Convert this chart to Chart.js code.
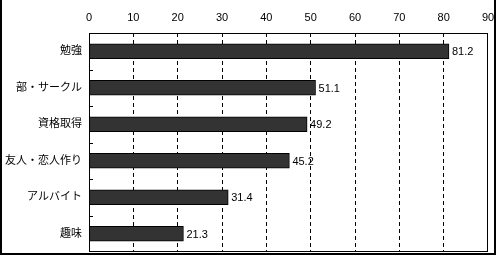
<!DOCTYPE html>
<html>
<head>
<meta charset="utf-8">
<script src="https://cdn.jsdelivr.net/npm/chart.js@4/dist/chart.umd.min.js"></script>
<style>
html,body{margin:0;padding:0;background:#fff;}
#wrap{width:500px;height:257px;position:relative;}
</style>
</head>
<body>
<div id="wrap"><canvas id="c" width="500" height="257"></canvas></div>
<script>
const categories = ["勉強", "部・サークル", "資格取得", "友人・恋人作り", "アルバイト", "趣味"];
const values = [81.2, 51.1, 49.2, 45.2, 31.4, 21.3];
const valueLabels = ["81.2", "51.1", "49.2", "45.2", "31.4", "21.3"];
const xTicks = [0, 10, 20, 30, 40, 50, 60, 70, 80, 90];

const FONT = '"Liberation Sans", "Noto Sans CJK JP", sans-serif';

const framePlugin = {
  id: 'frame',
  afterDatasetsDraw(chart) {
    const ctx = chart.ctx;
    const a = chart.chartArea;
    const y = chart.scales.y;
    ctx.save();
    ctx.strokeStyle = '#000';
    ctx.lineWidth = 1;
    ctx.setLineDash([]);
    ctx.strokeRect(Math.round(a.left) + 0.5, Math.round(a.top) + 0.5,
                   Math.round(a.right - a.left) - 1, Math.round(a.bottom - a.top) - 1);
    for (let i = 1; i < categories.length; i++) {
      const py = Math.round((y.getPixelForValue(i - 1) + y.getPixelForValue(i)) / 2) + 0.5;
      ctx.beginPath();
      ctx.moveTo(a.left, py);
      ctx.lineTo(a.left + 4, py);
      ctx.stroke();
    }
    const meta = chart.getDatasetMeta(0);
    ctx.fillStyle = '#000';
    ctx.font = '11px ' + FONT;
    ctx.textAlign = 'left';
    ctx.textBaseline = 'middle';
    meta.data.forEach((bar, i) => {
      ctx.fillText(valueLabels[i], bar.x + 3, bar.y + 1);
    });
    ctx.lineWidth = 2;
    ctx.beginPath();
    ctx.moveTo(1, 0);
    ctx.lineTo(1, 254);
    ctx.lineTo(495, 254);
    ctx.lineTo(495, 0);
    ctx.stroke();
    ctx.restore();
  }
};

new Chart(document.getElementById('c'), {
  type: 'bar',
  data: {
    labels: categories,
    datasets: [{
      data: values,
      backgroundColor: '#333333',
      borderColor: '#000000',
      borderWidth: 1,
      borderSkipped: false,
      barThickness: 15
    }]
  },
  options: {
    indexAxis: 'y',
    responsive: false,
    animation: false,
    layout: { padding: { left: 0, top: 0, right: 12, bottom: 5 } },
    plugins: { legend: { display: false }, tooltip: { enabled: false } },
    scales: {
      x: {
        position: 'top',
        min: 0,
        max: 90,
        afterFit(s) { s.height = 33; s.paddingLeft = 0; s.paddingRight = 0; },
        afterBuildTicks(s) { s.ticks = xTicks.map(v => ({ value: v })); },
        ticks: { color: '#000', font: { size: 11, family: FONT }, padding: 8 },
        grid: {
          drawTicks: false,
          color: (c) => (c.tick && (c.tick.value === 0 || c.tick.value === 90)) ? 'rgba(0,0,0,0)' : '#000',
          lineWidth: 1
        },
        border: { display: false, dash: [4, 3] }
      },
      y: {
        afterFit(s) { s.width = 89; s.paddingTop = 0; s.paddingBottom = 0; },
        ticks: { color: '#000', font: { size: 11, family: FONT }, padding: 7 },
        grid: { display: false, drawTicks: false },
        border: { display: false }
      }
    }
  },
  plugins: [framePlugin]
});
</script>
</body>
</html>
